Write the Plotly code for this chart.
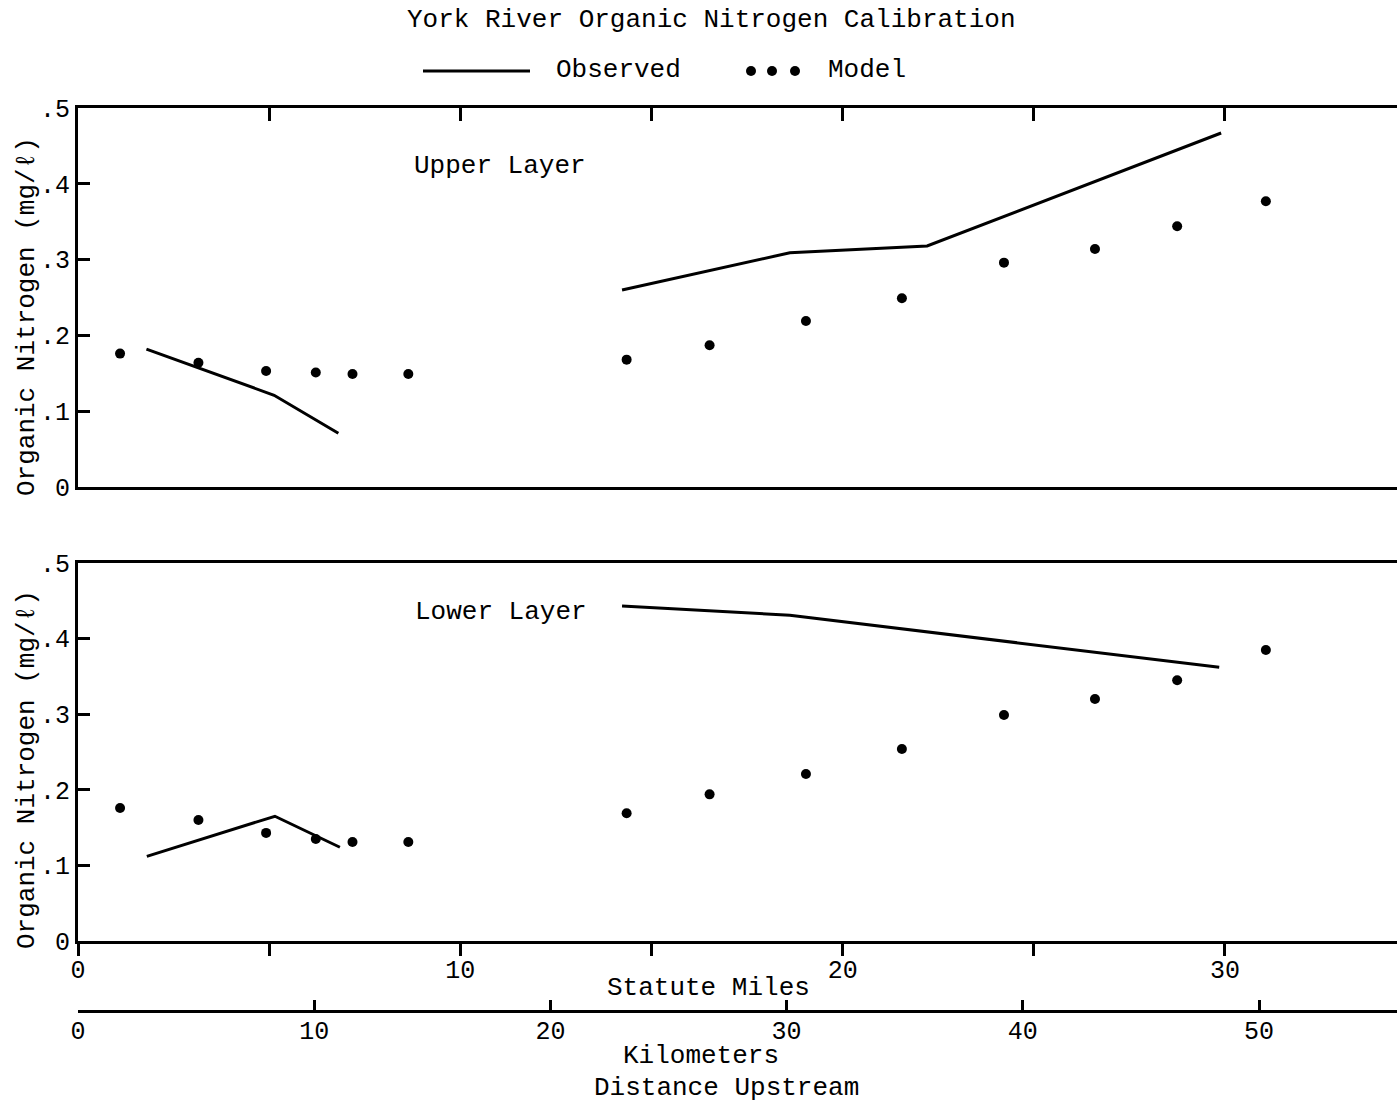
import plotly.graph_objects as go

# ---------------- data (statute miles, mg/l) ----------------
obs_upper_miles = [1.79, 5.13, 6.81, None, 14.23, 18.62, 22.21, 29.90]
obs_upper_vals = [0.182, 0.121, 0.071, None, 0.260, 0.309, 0.318, 0.467]

obs_lower_miles = [1.80, 5.15, 6.85, None, 14.23, 18.62, 29.85]
obs_lower_vals = [0.112, 0.165, 0.124, None, 0.443, 0.431, 0.362]

model_miles = [1.10, 3.15, 4.92, 6.22, 7.18, 8.64, 14.35, 16.52, 19.04, 21.55, 24.22, 26.60, 28.75, 31.07]
model_upper = [0.176, 0.164, 0.153, 0.151, 0.149, 0.149, 0.168, 0.187, 0.219, 0.249, 0.296, 0.314, 0.344, 0.377]
model_lower = [0.176, 0.160, 0.143, 0.135, 0.131, 0.131, 0.169, 0.194, 0.221, 0.254, 0.299, 0.320, 0.345, 0.385]

y_tickvals = [0, 0.1, 0.2, 0.3, 0.4, 0.5]
y_ticktext = ["0", ".1", ".2", ".3", ".4", ".5"]
mile_tickvals = [0, 5, 10, 15, 20, 25, 30]
mile_ticktext = ["0", "", "10", "", "20", "", "30"]
km_tickvals = [0, 10, 20, 30, 40, 50]
km_ticktext = ["0", "10", "20", "30", "40", "50"]

FONT = "Liberation Mono"
W, H = 1397, 1105
L, R, T, B = 78, 0, 108, 95
TICKSIZE = 25


def px_x(px):
    return (px - L) / (W - L - R)


def px_y(py):
    return (H - B - py) / (H - T - B)


fig = go.Figure()

fig.add_trace(go.Scatter(x=obs_upper_miles, y=obs_upper_vals, mode="lines",
                         line=dict(color="black", width=3), connectgaps=False,
                         xaxis="x", yaxis="y", showlegend=False))
fig.add_trace(go.Scatter(x=model_miles, y=model_upper, mode="markers",
                         marker=dict(color="black", size=10),
                         xaxis="x", yaxis="y", showlegend=False))
fig.add_trace(go.Scatter(x=obs_lower_miles, y=obs_lower_vals, mode="lines",
                         line=dict(color="black", width=3), connectgaps=False,
                         xaxis="x2", yaxis="y2", showlegend=False))
fig.add_trace(go.Scatter(x=model_miles, y=model_lower, mode="markers",
                         marker=dict(color="black", size=10),
                         xaxis="x2", yaxis="y2", showlegend=False))
# empty trace so the kilometre axis subplot is created
fig.add_trace(go.Scatter(x=[], y=[], mode="lines", xaxis="x3", yaxis="y3",
                         showlegend=False, hoverinfo="skip"))

up_dom = [px_y(487), 1.0]
lo_dom = [px_y(941), px_y(563)]

common_y = dict(range=[0, 0.5], tickvals=y_tickvals, ticktext=y_ticktext,
                ticks="inside", ticklen=12, tickwidth=2.5, tickcolor="black",
                showline=True, linecolor="black", linewidth=3, showgrid=False,
                zeroline=False, tickfont=dict(family=FONT, size=TICKSIZE, color="black"),
                fixedrange=True)

fig.update_layout(
    width=W, height=H,
    margin=dict(l=L, r=R, t=T, b=B),
    paper_bgcolor="white", plot_bgcolor="white",
    showlegend=False,
    font=dict(family=FONT, color="black"),
    xaxis=dict(domain=[0, 1], anchor="y", range=[0, 34.5], side="top",
               tickvals=mile_tickvals[1:], ticks="inside", ticklen=13, tickwidth=2.5,
               tickcolor="black", showticklabels=False, showline=True, mirror=True,
               linecolor="black", linewidth=3, showgrid=False, zeroline=False),
    yaxis=dict(domain=up_dom, anchor="x", **common_y),
    xaxis2=dict(domain=[0, 1], anchor="y2", range=[0, 34.5],
                tickvals=mile_tickvals, ticktext=mile_ticktext, ticks="outside",
                ticklen=12, tickwidth=2.5, tickcolor="black", showline=True, mirror=True,
                linecolor="black", linewidth=3, showgrid=False, zeroline=False,
                ticklabelstandoff=-8,
                tickfont=dict(family=FONT, size=TICKSIZE, color="black")),
    yaxis2=dict(domain=lo_dom, anchor="x2", **common_y),
    xaxis3=dict(domain=[0, 1], anchor="y3", range=[0, (W - L) / 23.62],
                tickvals=km_tickvals, ticktext=km_ticktext, ticks="inside",
                ticklen=10, tickwidth=2.5, tickcolor="black", showline=True,
                linecolor="black", linewidth=3, showgrid=False, zeroline=False,
                ticklabelstandoff=-4,
                tickfont=dict(family=FONT, size=TICKSIZE, color="black")),
    yaxis3=dict(domain=[0, 0.01], anchor="x3", range=[0, 1], showline=False,
                showticklabels=False, ticks="", showgrid=False, zeroline=False),
)

ann = []


def add_text(text, x, y, size=26, angle=0):
    ann.append(dict(text=text, x=px_x(x), y=px_y(y), xref="paper", yref="paper",
                    showarrow=False, xanchor="center", yanchor="middle",
                    textangle=angle, font=dict(family=FONT, size=size, color="black")))


add_text("York River Organic Nitrogen Calibration", 711, 20)
add_text("Observed", 618, 70)
add_text("Model", 867, 70)
add_text("Upper Layer", 500, 166)
add_text("Lower Layer", 501, 612)
add_text("Organic Nitrogen (mg/ℓ)", 27, 317, angle=-90)
add_text("Organic Nitrogen (mg/ℓ)", 27, 770, angle=-90)
add_text("Statute Miles", 708, 988)
add_text("Kilometers", 701, 1056)
add_text("Distance Upstream", 726, 1088)
fig.update_layout(annotations=ann)

shapes = [dict(type="line", xref="paper", yref="paper", x0=px_x(423), x1=px_x(530),
               y0=px_y(71), y1=px_y(71), line=dict(color="black", width=3))]
for cx in [751, 772, 795]:
    shapes.append(dict(type="circle", xref="paper", yref="paper",
                       xsizemode="pixel", ysizemode="pixel",
                       xanchor=px_x(cx), yanchor=px_y(71),
                       x0=-5, x1=5, y0=-5, y1=5,
                       fillcolor="black", line=dict(color="black", width=0)))
fig.update_layout(shapes=shapes)

fig.write_html("out.html")
